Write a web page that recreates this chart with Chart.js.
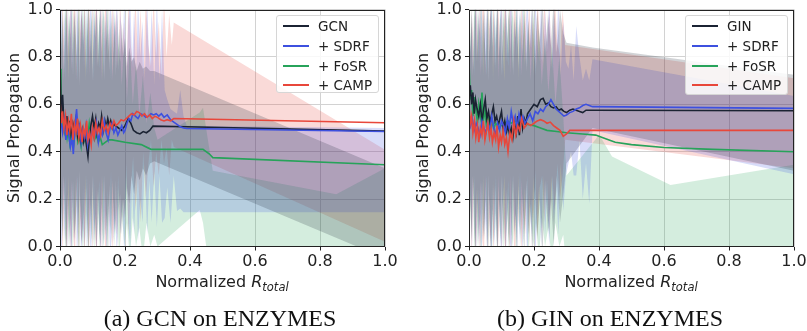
<!DOCTYPE html>
<html><head><meta charset="utf-8">
<script src="https://cdn.jsdelivr.net/npm/chart.js@4.4.1/dist/chart.umd.min.js"></script>
<style>
html,body{margin:0;padding:0;background:#fff;width:807px;height:331px;overflow:hidden;position:relative;font-family:"DejaVu Sans",sans-serif;}
.panel{position:absolute;top:0;height:331px;}
.legend{position:absolute;box-sizing:border-box;border:1px solid #d6d6d6;border-radius:3px;background:rgba(255,255,255,0.85);font-size:13.5px;color:#222;}
.legend .row{position:absolute;left:0;width:100%;height:20px;line-height:20px;}
.legend .sw{position:absolute;left:6px;top:9px;width:26px;height:2px;}
.legend .lab{position:absolute;left:41px;top:0;white-space:nowrap;}
.xt{position:absolute;font-size:16px;line-height:20px;color:#222;white-space:nowrap;transform:translateX(-50%);}
.xt sub{font-size:11.5px;vertical-align:-4px;}
.cap{position:absolute;font-family:"Liberation Serif","Times New Roman",serif;font-size:24px;line-height:28px;color:#111;white-space:nowrap;transform:translateX(-50%);}
</style>
</head>
<body>
<div class="panel" style="left:0;width:400px;"><canvas id="cA" width="400" height="331"></canvas></div>
<div class="panel" style="left:409px;width:398px;"><canvas id="cB" width="398" height="331"></canvas></div>
<div id="legA" class="legend" style="left:276px;top:15px;width:103px;height:78px;"></div>
<div id="legB" class="legend" style="left:685px;top:15px;width:103px;height:80px;"></div>
<div class="xt" style="left:222px;top:272px;">Normalized <i>R</i><sub><i>total</i></sub></div>
<div class="xt" style="left:631px;top:272px;">Normalized <i>R</i><sub><i>total</i></sub></div>
<div class="cap" style="left:220px;top:304px;">(a) GCN on ENZYMES</div>
<div class="cap" style="left:610px;top:304px;">(b) GIN on ENZYMES</div>
<script>
// ---------- tick labels / names ----------
const xTickValues = [0, 0.2, 0.4, 0.6, 0.8, 1.0];
const yTickValues = [0, 0.2, 0.4, 0.6, 0.8, 1.0];
const namesA = ['GCN', '+ SDRF', '+ FoSR', '+ CAMP'];
const namesB = ['GIN', '+ SDRF', '+ FoSR', '+ CAMP'];

// ---------- panel (a): GCN on ENZYMES ----------
const aGcnX = [0,0.004,0.008,0.012,0.017,0.021,0.026,0.03,0.035,0.04,0.044,0.049,0.054,0.058,0.063,0.068,0.072,0.077,0.082,0.086,0.091,0.096,0.1,0.105,0.11,0.114,0.119,0.124,0.128,0.133,0.138,0.142,0.147,0.152,0.156,0.161,0.166,0.17,0.18,0.19,0.2,0.21,0.218,0.226,0.236,0.246,0.256,0.266,0.276,0.286,0.32,0.39,1.0];
const aGcnY = [0.78,0.55,0.64,0.52,0.50,0.55,0.47,0.53,0.46,0.52,0.50,0.54,0.47,0.51,0.45,0.49,0.44,0.47,0.42,0.38,0.47,0.52,0.55,0.50,0.54,0.48,0.52,0.50,0.55,0.49,0.53,0.50,0.54,0.51,0.53,0.50,0.52,0.51,0.50,0.49,0.51,0.54,0.52,0.49,0.48,0.475,0.485,0.48,0.49,0.508,0.507,0.505,0.487];
const aGcnBandX = [0,0.004,0.008,0.012,0.016,0.02,0.024,0.028,0.032,0.036,0.04,0.044,0.048,0.052,0.056,0.06,0.064,0.068,0.072,0.076,0.08,0.084,0.088,0.092,0.096,0.1,0.104,0.108,0.112,0.116,0.12,0.124,0.128,0.132,0.136,0.14,0.144,0.148,0.152,0.156,0.16,0.164,0.168,0.172,0.176,0.18,0.185,0.19,0.195,0.2,0.206,0.213,0.22,0.228,0.236,0.245,0.255,0.265,0.277,0.29,1.0];
const aGcnHi = [1.05,0.82,1.0,0.7,0.95,1.05,0.78,0.98,0.88,1.05,0.72,1.0,0.9,0.8,1.05,0.68,0.95,1.0,0.85,1.05,0.75,0.92,1.05,0.8,0.97,0.7,1.0,0.88,1.05,0.76,0.93,1.0,0.82,1.05,0.7,0.96,0.86,1.05,0.74,0.9,1.0,0.8,0.95,0.72,1.0,0.85,0.78,0.95,0.8,0.88,0.76,0.84,0.78,0.8,0.74,0.78,0.75,0.76,0.74,0.74,0.33];
const aGcnLo = [-0.05,0.18,0.02,0.3,0.05,-0.05,0.22,0.0,0.12,-0.05,0.28,0.03,0.1,0.2,-0.05,0.32,0.05,0.0,0.15,-0.05,0.25,0.08,-0.05,0.2,0.03,0.3,0.0,0.12,-0.05,0.24,0.07,0.0,0.18,-0.05,0.3,0.04,0.14,-0.05,0.26,0.1,0.0,0.2,0.05,0.28,0.0,0.15,0.22,0.05,0.2,0.12,0.25,0.18,0.3,0.22,0.32,0.28,0.33,0.3,0.35,0.36,-0.05];

const aSdrfX = [0,0.004,0.008,0.013,0.018,0.022,0.027,0.032,0.037,0.041,0.046,0.051,0.056,0.06,0.065,0.07,0.075,0.08,0.085,0.09,0.095,0.1,0.106,0.112,0.118,0.124,0.13,0.136,0.142,0.148,0.154,0.16,0.166,0.172,0.178,0.184,0.19,0.196,0.2,0.206,0.212,0.218,0.224,0.232,0.24,0.248,0.256,0.264,0.272,0.28,0.288,0.296,0.304,0.312,0.32,0.33,0.34,0.35,0.36,0.37,0.38,0.39,1.0];
const aSdrfY = [0.55,0.52,0.48,0.53,0.45,0.50,0.47,0.42,0.46,0.39,0.50,0.58,0.47,0.52,0.44,0.49,0.46,0.51,0.43,0.48,0.45,0.50,0.46,0.52,0.44,0.49,0.47,0.53,0.48,0.45,0.50,0.52,0.48,0.50,0.47,0.49,0.51,0.48,0.49,0.52,0.54,0.53,0.56,0.55,0.54,0.56,0.555,0.545,0.55,0.56,0.555,0.56,0.55,0.56,0.545,0.555,0.535,0.525,0.515,0.505,0.50,0.498,0.485];
const aSdrfBandX = [0,0.005,0.009,0.013,0.018,0.022,0.026,0.031,0.035,0.039,0.044,0.048,0.052,0.057,0.061,0.065,0.07,0.074,0.078,0.083,0.087,0.091,0.096,0.1,0.104,0.109,0.113,0.117,0.122,0.126,0.13,0.135,0.139,0.143,0.148,0.152,0.156,0.161,0.165,0.17,0.175,0.18,0.186,0.192,0.198,0.204,0.21,0.216,0.222,0.228,0.234,0.24,0.247,0.254,0.261,0.268,0.275,0.282,0.29,0.298,0.306,0.314,0.322,0.33,0.34,0.35,0.36,0.37,0.38,0.39,1.0];
const aSdrfHi = [0.9,1.05,0.75,1.0,0.85,1.05,0.7,0.98,1.05,0.8,1.0,0.72,1.05,0.9,0.78,1.05,0.86,1.0,0.7,1.05,0.82,0.96,1.05,0.74,1.0,0.88,1.05,0.76,0.94,1.05,0.7,1.0,0.85,1.05,0.78,0.97,1.05,0.72,1.0,0.9,1.05,0.75,1.0,0.8,1.05,0.7,0.95,1.05,0.78,1.0,0.72,1.05,0.8,0.95,0.7,1.05,0.75,1.0,0.68,1.05,0.7,1.0,0.66,0.62,0.58,0.57,0.56,0.66,0.55,0.51,0.5];
const aSdrfLo = [0.1,-0.05,0.25,0.02,0.15,-0.05,0.3,0.05,-0.05,0.2,0.0,0.28,-0.05,0.12,0.22,-0.05,0.1,0.0,0.3,-0.05,0.18,0.05,-0.05,0.26,0.02,0.14,-0.05,0.24,0.06,-0.05,0.3,0.0,0.15,-0.05,0.22,0.04,-0.05,0.28,0.02,0.12,-0.05,0.25,0.05,0.2,-0.05,0.3,0.1,0.0,0.25,0.05,0.3,0.02,0.2,0.1,0.35,0.05,0.28,0.1,0.32,0.08,0.3,0.1,0.12,0.25,0.1,0.3,0.15,0.16,0.145,0.145,0.145];

const aFosrX = [0,0.003,0.006,0.01,0.014,0.018,0.022,0.026,0.03,0.034,0.038,0.042,0.046,0.05,0.055,0.06,0.065,0.07,0.075,0.08,0.085,0.09,0.095,0.1,0.106,0.112,0.118,0.124,0.13,0.14,0.15,0.16,0.2,0.25,0.28,0.44,0.46,0.47,1.0];
const aFosrY = [0.75,0.62,0.52,0.50,0.48,0.52,0.46,0.50,0.44,0.49,0.47,0.43,0.48,0.50,0.44,0.46,0.42,0.48,0.45,0.50,0.46,0.52,0.47,0.49,0.45,0.47,0.44,0.46,0.43,0.44,0.45,0.45,0.44,0.43,0.41,0.41,0.39,0.375,0.345];
const aFosrBandX = [0,0.003,0.007,0.011,0.015,0.019,0.023,0.027,0.031,0.035,0.039,0.043,0.047,0.051,0.055,0.059,0.063,0.067,0.071,0.075,0.079,0.083,0.087,0.091,0.095,0.099,0.103,0.107,0.111,0.115,0.119,0.123,0.127,0.131,0.135,0.14,0.145,0.15,0.156,0.162,0.168,0.175,0.182,0.19,0.198,0.206,0.215,0.224,0.234,0.244,0.255,0.266,0.278,0.29,0.3,0.43,0.44,0.455,0.47,0.85,1.0];
const aFosrHi = [1.05,0.85,1.0,0.72,0.95,1.05,0.8,1.0,0.9,0.74,1.05,0.86,1.0,0.7,0.96,1.05,0.8,0.92,1.05,0.75,1.0,0.88,1.05,0.72,0.94,1.0,0.8,1.05,0.76,0.98,0.85,1.05,0.7,0.95,1.0,0.78,1.05,0.82,0.96,0.7,1.0,0.75,0.92,0.68,0.88,0.62,0.84,0.6,0.78,0.55,0.72,0.52,0.65,0.5,0.45,0.565,0.585,0.45,0.32,0.22,0.33];
const aFosrLo = [-0.05,0.2,0.02,0.3,0.08,-0.05,0.22,0.0,0.12,0.28,-0.05,0.15,0.03,0.3,0.06,-0.05,0.2,0.1,-0.05,0.26,0.02,0.14,-0.05,0.28,0.08,0.0,0.2,-0.05,0.25,0.04,0.15,-0.05,0.3,0.06,0.0,0.22,-0.05,0.18,0.05,0.28,0.0,0.2,-0.05,0.15,0.0,0.1,-0.05,0.12,0.0,0.08,-0.05,0.1,0.0,0.05,0.0,0.154,0.1,-0.05,-0.06,-0.25,-0.35];

const aCampX = [0,0.004,0.008,0.012,0.017,0.021,0.026,0.03,0.035,0.04,0.044,0.049,0.054,0.058,0.063,0.068,0.072,0.077,0.082,0.086,0.091,0.096,0.1,0.105,0.11,0.115,0.12,0.125,0.13,0.136,0.142,0.148,0.154,0.16,0.166,0.172,0.18,0.188,0.196,0.204,0.212,0.22,0.228,0.236,0.244,0.252,0.26,0.268,0.276,0.284,0.292,0.3,0.31,0.32,0.33,0.34,0.35,1.0];
const aCampY = [0.62,0.52,0.57,0.50,0.55,0.47,0.53,0.49,0.56,0.45,0.52,0.48,0.54,0.46,0.51,0.44,0.50,0.47,0.53,0.45,0.48,0.43,0.50,0.46,0.52,0.48,0.50,0.47,0.53,0.49,0.51,0.48,0.52,0.50,0.53,0.51,0.52,0.535,0.53,0.54,0.55,0.56,0.555,0.57,0.565,0.55,0.56,0.545,0.555,0.54,0.55,0.545,0.535,0.53,0.535,0.53,0.54,0.522];
const aCampBandX = [0,0.004,0.008,0.012,0.016,0.02,0.025,0.029,0.033,0.037,0.041,0.046,0.05,0.054,0.058,0.062,0.067,0.071,0.075,0.079,0.083,0.088,0.092,0.096,0.1,0.104,0.109,0.113,0.117,0.121,0.125,0.13,0.134,0.138,0.142,0.147,0.152,0.157,0.162,0.167,0.173,0.179,0.185,0.191,0.197,0.204,0.211,0.218,0.225,0.232,0.24,0.248,0.256,0.264,0.272,0.28,0.288,0.296,0.304,0.312,0.32,0.328,0.336,0.344,0.35,1.0];
const aCampHi = [1.0,0.78,1.05,0.88,0.7,1.05,0.92,0.8,1.05,0.74,0.98,1.05,0.82,0.7,1.05,0.9,1.0,0.76,1.05,0.85,0.72,1.05,0.95,0.8,1.05,0.7,0.98,1.05,0.84,0.75,1.05,0.9,0.72,1.0,1.05,0.8,0.94,0.7,1.05,0.86,1.0,0.74,1.05,0.82,0.95,0.7,1.05,0.85,0.75,1.05,0.8,1.0,0.72,1.05,0.85,0.76,1.05,0.8,0.95,0.72,1.05,0.8,0.98,0.85,0.945,0.408];
const aCampLo = [0.05,0.25,-0.05,0.15,0.3,-0.05,0.1,0.22,-0.05,0.28,0.04,-0.05,0.2,0.3,-0.05,0.12,0.02,0.26,-0.05,0.16,0.3,-0.05,0.08,0.22,-0.05,0.3,0.04,-0.05,0.18,0.28,-0.05,0.12,0.3,0.02,-0.05,0.24,0.08,0.32,-0.05,0.15,0.05,0.3,0.0,0.2,0.1,0.35,0.05,0.25,0.38,0.15,0.3,0.1,0.4,0.2,0.35,0.45,0.25,0.4,0.3,0.45,0.35,0.42,0.3,0.45,0.42,0.02];

// ---------- panel (b): GIN on ENZYMES ----------
const bGinX = [0,0.004,0.008,0.012,0.016,0.02,0.025,0.03,0.035,0.04,0.045,0.05,0.055,0.06,0.065,0.07,0.075,0.08,0.085,0.09,0.095,0.1,0.105,0.11,0.115,0.12,0.125,0.13,0.135,0.14,0.145,0.15,0.155,0.16,0.165,0.17,0.175,0.18,0.19,0.2,0.21,0.22,0.228,0.236,0.244,0.252,0.26,0.268,0.276,0.284,0.292,0.3,0.31,0.32,0.33,0.34,0.35,0.36,0.38,1.0];
const bGinY = [0.62,0.68,0.60,0.65,0.56,0.62,0.58,0.55,0.60,0.53,0.58,0.62,0.54,0.57,0.52,0.56,0.59,0.53,0.55,0.51,0.54,0.57,0.50,0.53,0.48,0.51,0.47,0.50,0.46,0.52,0.48,0.55,0.47,0.58,0.50,0.54,0.52,0.56,0.58,0.60,0.59,0.62,0.625,0.60,0.605,0.59,0.585,0.59,0.575,0.58,0.57,0.565,0.575,0.58,0.575,0.57,0.565,0.575,0.575,0.573];
const bGinBandX = [0,0.004,0.008,0.012,0.016,0.02,0.024,0.028,0.032,0.036,0.04,0.044,0.048,0.052,0.056,0.06,0.064,0.068,0.072,0.076,0.08,0.084,0.088,0.092,0.096,0.1,0.104,0.108,0.112,0.116,0.12,0.124,0.128,0.132,0.136,0.14,0.144,0.148,0.152,0.156,0.16,0.165,0.17,0.176,0.182,0.188,0.195,0.202,0.21,0.218,0.226,0.234,0.243,0.252,0.261,0.27,0.28,0.29,0.3,0.38,1.0];
const bGinHi = [1.05,0.8,1.0,0.72,0.96,1.05,0.78,1.0,0.9,1.05,0.74,1.0,0.88,0.8,1.05,0.7,0.95,1.05,0.84,1.0,0.76,0.93,1.05,0.8,0.98,0.72,1.0,0.9,1.05,0.78,0.95,1.0,0.82,1.05,0.72,0.97,0.88,1.05,0.75,0.92,1.0,0.8,1.05,0.74,0.96,0.84,1.05,0.78,1.0,0.86,1.05,0.8,0.98,0.85,1.05,0.82,1.0,0.9,0.86,0.84,0.725];
const bGinLo = [-0.05,0.2,0.02,0.3,0.06,-0.05,0.24,0.0,0.12,-0.05,0.28,0.03,0.12,0.2,-0.05,0.3,0.05,-0.05,0.16,0.0,0.26,0.08,-0.05,0.2,0.03,0.3,0.0,0.12,-0.05,0.24,0.06,0.0,0.18,-0.05,0.3,0.04,0.14,-0.05,0.26,0.1,0.0,0.22,-0.05,0.28,0.05,0.18,-0.05,0.25,0.04,0.2,-0.05,0.28,0.06,0.2,0.0,0.3,0.1,0.22,0.35,0.5,0.32];

const bSdrfX = [0,0.005,0.01,0.016,0.022,0.028,0.034,0.04,0.046,0.052,0.058,0.064,0.07,0.076,0.082,0.088,0.094,0.1,0.106,0.112,0.118,0.124,0.13,0.136,0.142,0.148,0.154,0.16,0.166,0.172,0.18,0.188,0.196,0.204,0.212,0.22,0.228,0.236,0.244,0.252,0.26,0.268,0.276,0.284,0.292,0.3,0.31,0.32,0.33,0.34,0.35,0.36,0.37,0.38,1.0];
const bSdrfY = [0.55,0.51,0.54,0.49,0.52,0.50,0.47,0.53,0.50,0.48,0.52,0.49,0.55,0.50,0.47,0.52,0.49,0.53,0.51,0.48,0.54,0.50,0.57,0.52,0.55,0.50,0.56,0.53,0.55,0.52,0.54,0.56,0.53,0.57,0.56,0.58,0.57,0.59,0.6,0.62,0.6,0.58,0.57,0.56,0.55,0.555,0.565,0.57,0.58,0.585,0.595,0.6,0.595,0.59,0.583];
const bSdrfBandX = [0,0.005,0.009,0.013,0.018,0.022,0.026,0.031,0.035,0.039,0.044,0.048,0.052,0.057,0.061,0.065,0.07,0.074,0.078,0.083,0.087,0.091,0.096,0.1,0.104,0.109,0.113,0.117,0.122,0.126,0.13,0.135,0.139,0.143,0.148,0.152,0.156,0.161,0.165,0.17,0.175,0.18,0.186,0.192,0.198,0.204,0.21,0.216,0.222,0.228,0.234,0.24,0.247,0.254,0.261,0.268,0.275,0.282,0.29,0.298,0.306,0.314,0.322,0.33,0.34,0.35,0.36,0.37,0.38,1.0];
const bSdrfHi = [1.05,0.82,1.0,0.74,0.95,1.05,0.78,1.0,0.88,1.05,0.72,1.0,0.9,1.05,0.78,0.96,1.05,0.7,1.0,0.85,1.05,0.76,0.98,1.05,0.82,0.7,1.05,0.92,0.8,1.0,1.05,0.74,0.96,0.86,1.05,0.7,1.0,0.82,1.05,0.76,0.95,1.05,0.8,1.0,0.72,1.05,0.88,0.78,1.05,0.74,1.0,0.85,1.05,0.75,0.98,0.8,1.05,0.72,0.95,0.78,0.75,0.85,0.7,0.93,0.8,0.7,0.75,0.7,0.79,0.635];
const bSdrfLo = [0.02,0.22,-0.05,0.3,0.08,-0.05,0.25,0.0,0.14,-0.05,0.3,0.04,0.12,-0.05,0.22,0.06,-0.05,0.28,0.0,0.16,-0.05,0.26,0.04,-0.05,0.18,0.3,-0.05,0.1,0.22,0.02,-0.05,0.28,0.06,0.15,-0.05,0.3,0.02,0.2,-0.05,0.25,0.08,-0.05,0.22,0.04,0.3,-0.05,0.14,0.26,0.0,0.3,0.05,0.2,0.0,0.3,0.1,0.25,0.05,0.35,0.15,0.3,0.35,0.4,0.3,0.3,0.45,0.2,0.35,0.18,0.49,0.305];

const bFosrX = [0,0.004,0.008,0.012,0.017,0.021,0.026,0.03,0.035,0.04,0.044,0.049,0.054,0.058,0.063,0.068,0.072,0.077,0.082,0.09,0.1,0.11,0.12,0.13,0.14,0.15,0.16,0.18,0.2,0.22,0.24,0.27,0.3,0.35,0.39,0.41,0.45,0.5,0.6,0.75,1.0];
const bFosrY = [0.78,0.62,0.66,0.55,0.63,0.58,0.52,0.60,0.55,0.65,0.53,0.58,0.50,0.55,0.52,0.49,0.53,0.50,0.52,0.505,0.51,0.52,0.53,0.52,0.53,0.525,0.52,0.515,0.51,0.50,0.49,0.485,0.48,0.475,0.47,0.46,0.44,0.43,0.418,0.41,0.40];
const bFosrBandX = [0,0.003,0.007,0.011,0.015,0.019,0.023,0.027,0.031,0.035,0.039,0.043,0.047,0.051,0.055,0.059,0.063,0.067,0.071,0.075,0.079,0.083,0.087,0.091,0.095,0.099,0.103,0.107,0.111,0.115,0.119,0.123,0.127,0.131,0.135,0.14,0.145,0.15,0.156,0.162,0.168,0.175,0.182,0.19,0.198,0.206,0.215,0.224,0.234,0.244,0.255,0.266,0.278,0.29,0.3,0.4,0.41,0.44,0.62,1.0];
const bFosrHi = [1.05,0.84,1.0,0.75,0.96,1.05,0.8,1.0,0.88,0.72,1.05,0.85,1.0,0.72,0.94,1.05,0.82,0.9,1.05,0.76,1.0,0.86,1.05,0.7,0.95,1.0,0.8,1.05,0.78,0.98,0.86,1.05,0.72,0.94,1.0,0.8,1.05,0.84,0.98,0.72,1.05,0.78,0.95,0.7,1.0,0.75,0.92,0.68,0.9,0.65,0.85,0.6,0.8,0.55,0.3,0.47,0.45,0.38,0.26,0.345];
const bFosrLo = [-0.05,0.22,0.02,0.3,0.08,-0.05,0.2,0.0,0.14,0.28,-0.05,0.16,0.03,0.3,0.08,-0.05,0.22,0.1,-0.05,0.26,0.02,0.14,-0.05,0.3,0.08,0.0,0.2,-0.05,0.25,0.04,0.15,-0.05,0.3,0.06,0.0,0.22,-0.05,0.18,0.05,0.28,0.0,0.2,-0.05,0.15,0.0,0.1,-0.05,0.12,0.0,0.08,-0.05,0.1,0.0,0.05,-0.1,-0.1,-0.1,-0.1,-0.15,-0.2];

const bCampX = [0,0.004,0.008,0.012,0.017,0.021,0.026,0.03,0.035,0.04,0.044,0.049,0.054,0.058,0.063,0.068,0.072,0.077,0.082,0.086,0.091,0.096,0.1,0.105,0.11,0.115,0.12,0.126,0.132,0.138,0.144,0.15,0.156,0.162,0.17,0.18,0.19,0.2,0.21,0.22,0.23,0.24,0.25,0.26,0.27,0.28,0.29,0.3,0.31,1.0];
const bCampY = [0.60,0.52,0.55,0.48,0.53,0.46,0.51,0.44,0.50,0.47,0.53,0.45,0.49,0.52,0.46,0.50,0.44,0.48,0.45,0.51,0.42,0.47,0.44,0.49,0.43,0.46,0.40,0.48,0.45,0.53,0.47,0.51,0.49,0.54,0.50,0.52,0.51,0.52,0.53,0.535,0.53,0.52,0.525,0.51,0.50,0.49,0.465,0.475,0.49,0.49];
const bCampBandX = [0,0.004,0.008,0.012,0.016,0.02,0.025,0.029,0.033,0.037,0.041,0.046,0.05,0.054,0.058,0.062,0.067,0.071,0.075,0.079,0.083,0.088,0.092,0.096,0.1,0.104,0.109,0.113,0.117,0.121,0.125,0.13,0.134,0.138,0.142,0.147,0.152,0.157,0.162,0.167,0.173,0.179,0.185,0.191,0.197,0.204,0.211,0.218,0.225,0.232,0.24,0.248,0.256,0.264,0.272,0.28,0.288,0.296,1.0];
const bCampHi = [1.05,0.8,1.0,0.9,0.72,1.05,0.94,0.78,1.05,0.75,1.0,1.05,0.8,0.72,1.05,0.92,1.0,0.78,1.05,0.86,0.74,1.05,0.96,0.8,1.05,0.72,1.0,1.05,0.82,0.76,1.05,0.92,0.74,1.0,1.05,0.8,0.95,0.72,1.05,0.88,1.0,0.76,1.05,0.84,0.96,0.72,1.05,0.86,0.78,1.05,0.82,1.0,0.74,1.05,0.86,0.8,1.0,0.85,0.71];
const bCampLo = [0.04,0.26,-0.05,0.14,0.3,-0.05,0.1,0.24,-0.05,0.28,0.03,-0.05,0.2,0.3,-0.05,0.12,0.02,0.26,-0.05,0.16,0.3,-0.05,0.08,0.22,-0.05,0.3,0.04,-0.05,0.18,0.28,-0.05,0.12,0.3,0.02,-0.05,0.24,0.08,0.32,-0.05,0.15,0.05,0.3,0.0,0.2,0.1,0.32,0.02,0.25,0.3,0.1,0.28,0.05,0.3,0.15,0.35,0.2,0.3,0.45,0.33];

// ---------- styles ----------
const lineColors = ['#1b2333', '#3d50df', '#27a35a', '#e8473b'];
const bandColors = ['rgba(27,35,51,0.2)', 'rgba(61,80,223,0.2)', 'rgba(39,163,90,0.2)', 'rgba(232,71,59,0.2)'];
const lineOrder = [2, 1, 3, 0];

const seriesA = [
  {x:aGcnX, y:aGcnY, bx:aGcnBandX, hi:aGcnHi, lo:aGcnLo},
  {x:aSdrfX, y:aSdrfY, bx:aSdrfBandX, hi:aSdrfHi, lo:aSdrfLo},
  {x:aFosrX, y:aFosrY, bx:aFosrBandX, hi:aFosrHi, lo:aFosrLo},
  {x:aCampX, y:aCampY, bx:aCampBandX, hi:aCampHi, lo:aCampLo}
];
const seriesB = [
  {x:bGinX, y:bGinY, bx:bGinBandX, hi:bGinHi, lo:bGinLo},
  {x:bSdrfX, y:bSdrfY, bx:bSdrfBandX, hi:bSdrfHi, lo:bSdrfLo},
  {x:bFosrX, y:bFosrY, bx:bFosrBandX, hi:bFosrHi, lo:bFosrLo},
  {x:bCampX, y:bCampY, bx:bCampBandX, hi:bCampHi, lo:bCampLo}
];

Chart.defaults.font.family = '"DejaVu Sans", sans-serif';
Chart.defaults.color = '#222';

function pts(xs, ys) { return xs.map((x, i) => ({x: x, y: ys[i]})); }

const framePlugin = {
  id: 'frame',
  afterDatasetsDraw(chart) {
    const a = chart.chartArea, ctx = chart.ctx;
    ctx.save();
    ctx.strokeStyle = '#222';
    ctx.lineWidth = 1;
    const l = Math.round(a.left) + 0.5, t = Math.round(a.top) + 0.5;
    const r = Math.round(a.right) - 0.5, b = Math.round(a.bottom) - 0.5;
    ctx.strokeRect(l, t, r - l, b - t);
    ctx.restore();
  }
};

function fmt(v) { return Number(v).toFixed(1); }

function makeChart(id, series, names, padRight) {
  const datasets = [];
  series.forEach((s, i) => {
    datasets.push({label: names[i] + ' upper', data: pts(s.bx, s.hi), borderWidth: 0, borderColor: 'rgba(0,0,0,0)',
      pointRadius: 0, fill: '+1', backgroundColor: bandColors[i], order: 10 + i, tension: 0});
    datasets.push({label: names[i] + ' lower', data: pts(s.bx, s.lo), borderWidth: 0, borderColor: 'rgba(0,0,0,0)',
      pointRadius: 0, fill: false, backgroundColor: 'rgba(0,0,0,0)', order: 10 + i, tension: 0});
  });
  series.forEach((s, i) => {
    datasets.push({label: names[i], data: pts(s.x, s.y), borderColor: lineColors[i], borderWidth: 1.6,
      pointRadius: 0, fill: false, order: lineOrder[i], tension: 0});
  });
  const gridCommon = {color: '#d2d2d2', lineWidth: 1, tickColor: '#222', tickLength: 4, drawTicks: true};
  return new Chart(document.getElementById(id), {
    type: 'line',
    data: {datasets: datasets},
    options: {
      responsive: false, animation: false, events: [],
      layout: {padding: {left: 0, right: padRight, top: 9.5, bottom: 54.5}},
      plugins: {legend: {display: false}, tooltip: {enabled: false}},
      scales: {
        x: {type: 'linear', min: 0, max: 1,
          afterBuildTicks: sc => { sc.ticks = xTickValues.map(v => ({value: v})); },
          ticks: {callback: fmt, font: {size: 16}, padding: 2, maxRotation: 0, autoSkip: false, color: '#222'},
          grid: gridCommon, border: {display: false},
          afterFit: sc => { sc.height = 30; sc.paddingLeft = 0; sc.paddingRight = 0; }
        },
        y: {type: 'linear', min: 0, max: 1,
          afterBuildTicks: sc => { sc.ticks = yTickValues.map(v => ({value: v})); },
          ticks: {callback: fmt, font: {size: 16}, padding: 3, color: '#222'},
          grid: gridCommon, border: {display: false},
          title: {display: true, text: 'Signal Propagation', font: {size: 16}, color: '#222', padding: {top: 5, bottom: 0}},
          afterFit: sc => { sc.width = 60; sc.paddingTop = 0; sc.paddingBottom = 0; }
        }
      }
    },
    plugins: [framePlugin]
  });
}

function makeLegend(id, names) {
  const box = document.getElementById(id);
  const rowTops = [0, 20, 40, 59];
  names.forEach((n, i) => {
    const row = document.createElement('div');
    row.className = 'row';
    row.style.top = rowTops[i] + 'px';
    const sw = document.createElement('div');
    sw.className = 'sw';
    sw.style.background = lineColors[i];
    const lab = document.createElement('div');
    lab.className = 'lab';
    lab.textContent = n;
    row.appendChild(sw); row.appendChild(lab);
    box.appendChild(row);
  });
}

makeChart('cA', seriesA, namesA, 15);
makeChart('cB', seriesB, namesB, 13);
makeLegend('legA', namesA);
makeLegend('legB', namesB);
</script>
</body></html>
